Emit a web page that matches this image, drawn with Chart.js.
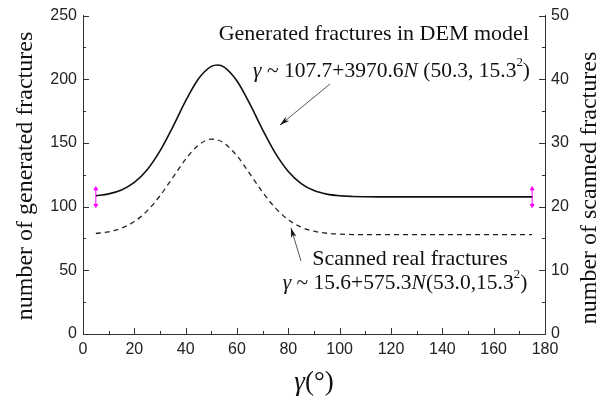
<!DOCTYPE html>
<html>
<head>
<meta charset="utf-8">
<script src="https://cdn.jsdelivr.net/npm/chart.js@4"></script>
<style>
  html, body { margin: 0; padding: 0; background: #fff; }
  #wrap { width: 606px; height: 405px; }
</style>
</head>
<body>
<div id="wrap"><canvas id="fracChart" width="606" height="405"></canvas></div>
<script>
// dip angle samples (degrees)
const angles = [5, 10, 15, 20, 25, 30, 35, 40, 45, 50, 52.5, 55, 60, 65, 70, 75, 80, 85, 90,
  95, 100, 105, 110, 115, 120, 125, 130, 135, 140, 145, 150, 155, 160, 165, 170, 175];
// generated fractures in DEM model (left axis)
const generatedCounts = [108.6, 110.0, 113.1, 119.0, 129.0, 143.8, 162.7, 183.0, 200.4, 210.1,
  211.2, 209.5, 198.6, 180.6, 160.3, 141.8, 127.6, 118.1, 112.6, 109.8, 108.5, 108.0, 107.8,
  107.7, 107.7, 107.7, 107.7, 107.7, 107.7, 107.7, 107.7, 107.7, 107.7, 107.7, 107.7, 107.7];
// scanned real fractures (right axis)
const scannedCounts = [15.78, 16.05, 16.62, 17.66, 19.34, 21.71, 24.58, 27.45, 29.66, 30.6,
  30.47, 29.97, 27.97, 25.17, 22.26, 19.76, 17.94, 16.78, 16.14, 15.82, 15.68, 15.62, 15.6,
  15.6, 15.6, 15.6, 15.6, 15.6, 15.6, 15.6, 15.6, 15.6, 15.6, 15.6, 15.6, 15.6];
// magenta range markers at both ends (left axis)
const markerAngles = [5, 175];
const markerLow = [101, 101];
const markerHigh = [114, 114];

const xTicks = [0, 20, 40, 60, 80, 100, 120, 140, 160, 180];
const leftTicks = [0, 50, 100, 150, 200, 250];
const rightTicks = [0, 10, 20, 30, 40, 50];

const SERIF = '"Liberation Serif", "Times New Roman", serif';
const SANS = '"Liberation Sans", Arial, sans-serif';

function toPoints(xs, ys) {
  return xs.map((x, i) => ({ x: x, y: ys[i] }));
}

const markerSets = markerAngles.map((a, i) => ({
  data: [{ x: a, y: markerLow[i] }, { x: a, y: markerHigh[i] }],
  yAxisID: 'y',
  borderColor: '#ff00ff',
  backgroundColor: '#ff00ff',
  borderWidth: 1,
  pointStyle: 'triangle',
  pointRadius: 2.2,
  pointRotation: [180, 0],
  showLine: true
}));

// draw text made of styled pieces (italic, superscript)
function drawRich(ctx, segs, x, y, align, size) {
  const fontOf = s => (s.it ? 'italic ' : '') + (s.sup ? size * 0.6 : size) + 'px ' + SERIF;
  let total = 0;
  segs.forEach(s => { ctx.font = fontOf(s); total += ctx.measureText(s.t).width; });
  let cx = align === 'right' ? x - total : align === 'center' ? x - total / 2 : x;
  ctx.textAlign = 'left';
  ctx.textBaseline = 'middle';
  segs.forEach(s => {
    ctx.font = fontOf(s);
    ctx.fillText(s.t, cx, s.sup ? y - size * 0.38 : y);
    cx += ctx.measureText(s.t).width;
  });
}

function arrow(ctx, x1, y1, x2, y2) {
  const ang = Math.atan2(y2 - y1, x2 - x1);
  ctx.save();
  ctx.strokeStyle = '#555';
  ctx.fillStyle = '#111';
  ctx.lineWidth = 1;
  ctx.beginPath();
  ctx.moveTo(x1, y1);
  ctx.lineTo(x2, y2);
  ctx.stroke();
  ctx.beginPath();
  ctx.moveTo(x2, y2);
  ctx.lineTo(x2 - 10 * Math.cos(ang - 0.28), y2 - 10 * Math.sin(ang - 0.28));
  ctx.lineTo(x2 - 7 * Math.cos(ang), y2 - 7 * Math.sin(ang));
  ctx.lineTo(x2 - 10 * Math.cos(ang + 0.28), y2 - 10 * Math.sin(ang + 0.28));
  ctx.closePath();
  ctx.fill();
  ctx.restore();
}

const decorPlugin = {
  id: 'decor',
  afterDraw(chart) {
    const ctx = chart.ctx;
    const sx = chart.scales.x, sy = chart.scales.y, sr = chart.scales.y1;
    const area = chart.chartArea;
    ctx.save();
    ctx.strokeStyle = '#333';
    ctx.lineWidth = 1;

    // inward ticks, major and minor
    for (let v = 0; v <= 180; v += 10) {
      const px = Math.round(sx.getPixelForValue(v)) + 0.5;
      const len = v % 20 === 0 ? 6 : 3;
      ctx.beginPath(); ctx.moveTo(px, area.bottom); ctx.lineTo(px, area.bottom - len); ctx.stroke();
    }
    for (let v = 0; v <= 250; v += 25) {
      const py = Math.round(sy.getPixelForValue(v)) + 0.5;
      const len = v % 50 === 0 ? 6 : 3;
      ctx.beginPath(); ctx.moveTo(area.left, py); ctx.lineTo(area.left + len, py); ctx.stroke();
    }
    for (let v = 0; v <= 50; v += 5) {
      const py = Math.round(sr.getPixelForValue(v)) + 0.5;
      const len = v % 10 === 0 ? 6 : 3;
      ctx.beginPath(); ctx.moveTo(area.right, py); ctx.lineTo(area.right - len, py); ctx.stroke();
    }

    ctx.fillStyle = '#111';

    // axis titles
    ctx.save();
    ctx.font = '24px ' + SERIF;
    ctx.textAlign = 'center';
    ctx.textBaseline = 'middle';
    ctx.translate(26, 176);
    ctx.rotate(-Math.PI / 2);
    ctx.fillText('number of generated fractures', 0, 0);
    ctx.restore();

    ctx.save();
    ctx.font = '24px ' + SERIF;
    ctx.textAlign = 'center';
    ctx.textBaseline = 'middle';
    ctx.translate(590, 188);
    ctx.rotate(-Math.PI / 2);
    ctx.fillText('number of scanned fractures', 0, 0);
    ctx.restore();

    drawRich(ctx, [{ t: 'γ', it: true }, { t: '(°)' }], 314, 383, 'center', 27);

    // annotations
    ctx.font = '22px ' + SERIF;
    ctx.textAlign = 'right';
    ctx.textBaseline = 'middle';
    ctx.fillText('Generated fractures in DEM model', 529, 34);
    drawRich(ctx, [
      { t: 'γ', it: true }, { t: ' ~ 107.7+3970.6' }, { t: 'N', it: true },
      { t: ' (50.3, 15.3' }, { t: '2', sup: true }, { t: ')' }
    ], 530, 71, 'right', 21.5);

    ctx.font = '22px ' + SERIF;
    ctx.textAlign = 'center';
    ctx.fillText('Scanned real fractures', 410, 259);
    drawRich(ctx, [
      { t: 'γ', it: true }, { t: ' ~ 15.6+575.3' }, { t: 'N', it: true },
      { t: '(53.0,15.3' }, { t: '2', sup: true }, { t: ')' }
    ], 405, 283, 'center', 21.5);

    arrow(ctx, 330, 84, 280, 125);
    arrow(ctx, 301, 261, 291, 228);

    ctx.restore();
  }
};

new Chart(document.getElementById('fracChart'), {
  type: 'scatter',
  data: {
    datasets: [
      {
        label: 'Generated fractures in DEM model',
        data: toPoints(angles, generatedCounts),
        yAxisID: 'y',
        showLine: true,
        borderColor: '#111',
        borderWidth: 1.6,
        pointRadius: 0,
        cubicInterpolationMode: 'monotone'
      },
      {
        label: 'Scanned real fractures',
        data: toPoints(angles, scannedCounts),
        yAxisID: 'y1',
        showLine: true,
        borderColor: '#222',
        borderWidth: 1.3,
        borderDash: [5, 4],
        pointRadius: 0,
        cubicInterpolationMode: 'monotone'
      },
      ...markerSets
    ]
  },
  options: {
    responsive: false,
    animation: false,
    layout: { padding: { top: 15, left: 0, right: 0, bottom: 0 } },
    plugins: {
      legend: { display: false },
      tooltip: { enabled: false }
    },
    scales: {
      x: {
        type: 'linear',
        min: 0,
        max: 180,
        afterBuildTicks: s => { s.ticks = xTicks.map(v => ({ value: v })); },
        afterFit: s => { s.height = 71; },
        grid: { drawOnChartArea: false, drawTicks: false },
        border: { display: true, color: '#333', width: 1 },
        ticks: { color: '#222', font: { family: SANS, size: 16 }, padding: 6, maxRotation: 0 }
      },
      y: {
        position: 'left',
        min: 0,
        max: 250,
        afterBuildTicks: s => { s.ticks = leftTicks.map(v => ({ value: v })); },
        afterFit: s => { s.width = 83; },
        grid: { drawOnChartArea: false, drawTicks: false },
        border: { display: true, color: '#333', width: 1 },
        ticks: { color: '#222', font: { family: SANS, size: 16 }, padding: 6 }
      },
      y1: {
        position: 'right',
        min: 0,
        max: 50,
        afterBuildTicks: s => { s.ticks = rightTicks.map(v => ({ value: v })); },
        afterFit: s => { s.width = 61; },
        grid: { drawOnChartArea: false, drawTicks: false },
        border: { display: true, color: '#333', width: 1 },
        ticks: { color: '#222', font: { family: SANS, size: 16 }, padding: 6 }
      }
    }
  },
  plugins: [decorPlugin]
});
</script>
</body>
</html>
